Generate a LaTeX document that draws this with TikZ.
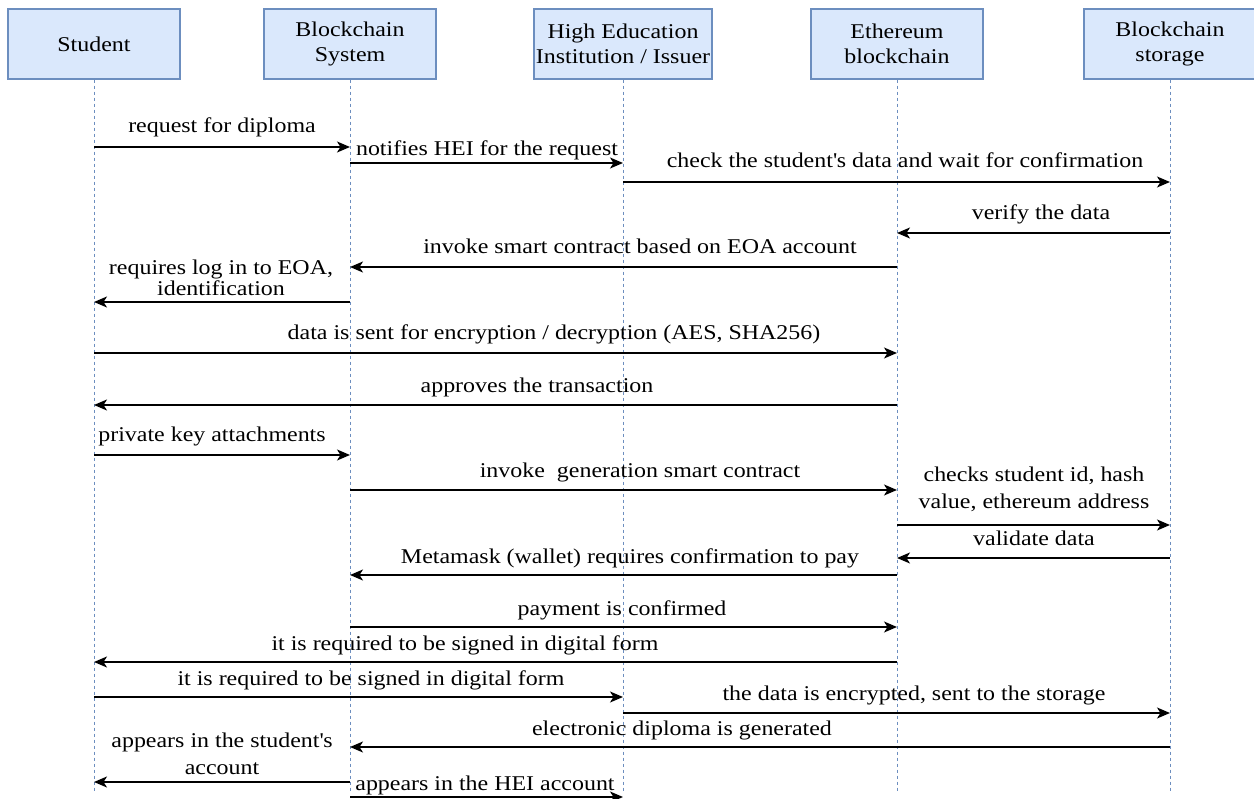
\documentclass[tikz,border=0pt]{standalone}
\usepackage{fontspec}
\setmainfont{Liberation Serif}[FakeStretch=1.14]
\usetikzlibrary{arrows.meta}
\definecolor{hdrfill}{HTML}{DAE8FC}
\definecolor{hdrline}{HTML}{6C8EBF}
\tikzset{
  hdr/.style={draw=hdrline, fill=hdrfill, line width=1.4pt, minimum width=172pt, minimum height=70pt, inner sep=2pt, align=center, font=\fontsize{21}{25}\selectfont},
  life/.style={draw=hdrline, line width=0.9pt, dash pattern=on 3pt off 3pt},
  msg/.style={draw=black, line width=1.5pt, -{Stealth[length=13pt,width=11pt,inset=3.5pt]}},
  lbl/.style={anchor=base, inner sep=0pt, align=center, font=\fontsize{21}{26}\selectfont}
}
\begin{document}
\begin{tikzpicture}[x=1pt,y=-1pt]
\useasboundingbox (0,0) rectangle (1254,799);
% headers
\node[hdr] (stu) at (94,44) {Student};
\node[hdr] (bcs) at (350,44) {Blockchain\\System};
\node[hdr] (hei) at (623,44) {High Education\\Institution / Issuer};
\node[hdr] (eth) at (897,44) {Ethereum\\blockchain};
\node[hdr] (sto) at (1170,44) {Blockchain\\storage};
\coordinate (bot) at (0,793);
% lifelines
\foreach \n in {stu,bcs,hei,eth,sto} {\draw[life] (\n.south) -- (\n |- bot);}
% messages
\draw[msg] (stu |- 0,147) -- (bcs |- 0,147);
\node[lbl] (l1) at (222,133) {request for diploma};
\draw[msg] (bcs |- 0,163) -- (hei |- 0,163);
\node[lbl] (l2) at (487,156) {notifies HEI for the request};
\draw[msg] (hei |- 0,182) -- (sto |- 0,182);
\node[lbl] (l3) at (905,168) {check the student\textquotesingle s data and wait for confirmation};
\draw[msg] (sto |- 0,233) -- (eth |- 0,233);
\node[lbl] (l4) at (1041,220) {verify the data};
\draw[msg] (eth |- 0,267) -- (bcs |- 0,267);
\node[lbl] (l5) at (640,254) {invoke smart contract based on EOA account};
\draw[msg] (bcs |- 0,302) -- (stu |- 0,302);
\node[lbl] (l6) at (221,296) {requires log in to EOA,\\[-5pt]identification};
\draw[msg] (stu |- 0,353) -- (eth |- 0,353);
\node[lbl] (l7) at (554,340) {data is sent for encryption / decryption (AES, SHA256)};
\draw[msg] (eth |- 0,405) -- (stu |- 0,405);
\node[lbl] (l8) at (537,393) {approves the transaction};
\draw[msg] (stu |- 0,455) -- (bcs |- 0,455);
\node[lbl] (l9) at (212,442) {private key attachments};
\draw[msg] (bcs |- 0,490) -- (eth |- 0,490);
\node[lbl] (l10) at (640,478) {invoke\ \ generation smart contract};
\draw[msg] (eth |- 0,525) -- (sto |- 0,525);
\node[lbl] (l11) at (1034,509) {checks student id, hash\\[2pt]value, ethereum address};
\draw[msg] (sto |- 0,558) -- (eth |- 0,558);
\node[lbl] (l12) at (1034,546) {validate data};
\draw[msg] (eth |- 0,575) -- (bcs |- 0,575);
\node[lbl] (l13) at (630,563) {Metamask (wallet) requires confirmation to pay};
\draw[msg] (bcs |- 0,627) -- (eth |- 0,627);
\node[lbl] (l14) at (622,615) {payment is confirmed};
\draw[msg] (eth |- 0,662) -- (stu |- 0,662);
\node[lbl] (l15) at (465,650) {it is required to be signed in digital form};
\draw[msg] (stu |- 0,697) -- (hei |- 0,697);
\node[lbl] (l16) at (371,685) {it is required to be signed in digital form};
\draw[msg] (hei |- 0,713) -- (sto |- 0,713);
\node[lbl] (l17) at (914,700) {the data is encrypted, sent to the storage};
\draw[msg] (sto |- 0,747) -- (bcs |- 0,747);
\node[lbl] (l18) at (682,735) {electronic diploma is generated};
\draw[msg] (bcs |- 0,782) -- (stu |- 0,782);
\node[lbl] (l19) at (222,774) {appears in the student\textquotesingle s\\[1pt]account};
\draw[msg] (bcs |- 0,797) -- (hei |- 0,797);
\node[lbl] (l20) at (485,790) {appears in the HEI account};
\end{tikzpicture}
\end{document}
